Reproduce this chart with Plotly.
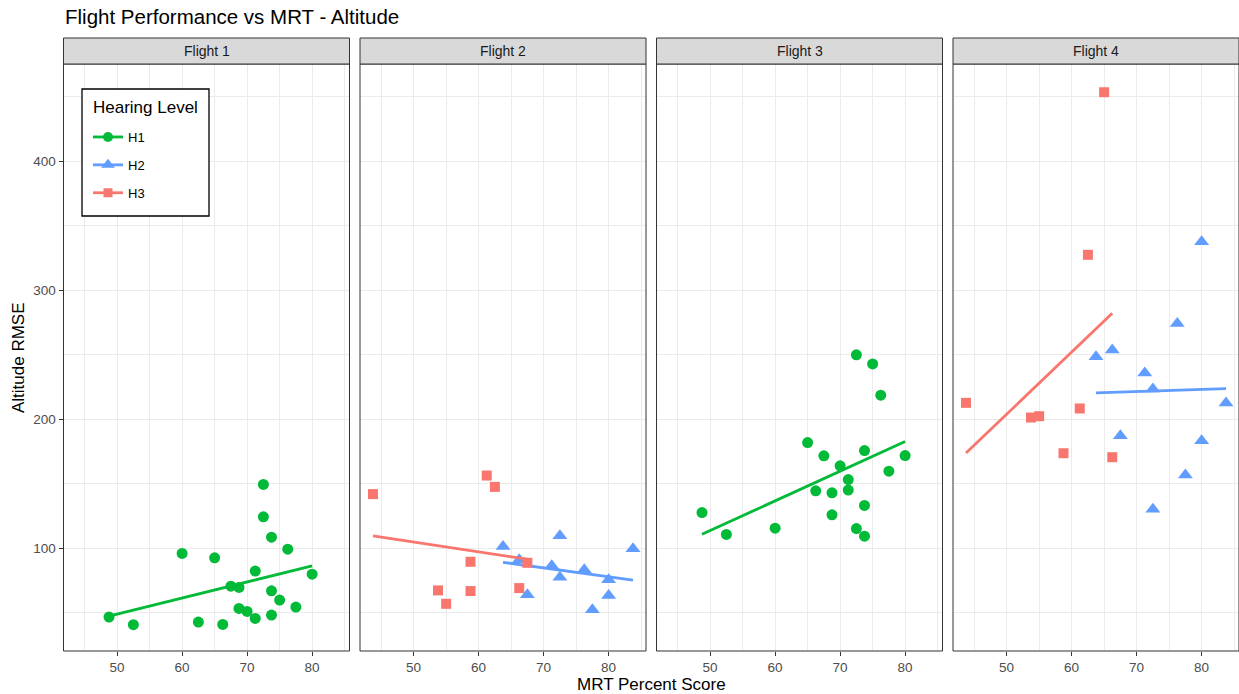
import numpy as np
import plotly.graph_objects as go

# ---------------- data ----------------
flights = ["Flight 1", "Flight 2", "Flight 3", "Flight 4"]
levels = ["H1", "H2", "H3"]

flight1_h1_mrt = [48.75, 52.5, 60, 62.5, 65, 66.25, 67.5, 68.75, 68.75, 70, 71.25, 71.25,
                  72.5, 72.5, 73.75, 73.75, 73.75, 75, 76.25, 77.5, 80]
flight1_h1_rmse = [46.5, 40.6, 95.9, 42.6, 92.5, 40.8, 70.5, 69.5, 53.2, 50.9, 45.5, 82.2,
                   149.4, 124.3, 108.5, 66.9, 48.1, 59.7, 99.2, 54.3, 79.8]

flight2_h2_mrt = [63.75, 66.25, 67.5, 71.25, 72.5, 72.5, 76.25, 77.5, 80, 80, 83.75]
flight2_h2_rmse = [101.3, 91.0, 63.8, 86.3, 109.6, 77.5, 83.2, 52.2, 75.5, 63.3, 99.5]
flight2_h3_mrt = [43.75, 53.75, 55, 58.75, 58.75, 61.25, 62.5, 66.25, 67.5]
flight2_h3_rmse = [141.9, 67.2, 56.8, 89.4, 66.7, 156.3, 147.5, 69.0, 88.6]

flight3_h1_mrt = [48.75, 52.5, 60, 65, 66.25, 67.5, 68.75, 68.75, 70, 71.25, 71.25, 72.5,
                  72.5, 73.75, 73.75, 73.75, 75, 76.25, 77.5, 80]
flight3_h1_rmse = [127.6, 110.6, 115.5, 181.9, 144.4, 171.6, 142.9, 125.8, 163.8, 153.2,
                   145.0, 249.9, 115.2, 175.7, 133.1, 109.3, 242.9, 218.6, 159.7, 171.8]

flight4_h2_mrt = [63.75, 66.25, 67.5, 71.25, 72.5, 72.5, 76.25, 77.5, 80, 80, 83.75]
flight4_h2_rmse = [248.5, 253.6, 187.1, 235.8, 223.4, 130.2, 274.3, 156.8, 337.6, 183.2, 212.5]
flight4_h3_mrt = [43.75, 53.75, 55, 58.75, 61.25, 62.5, 65, 66.25]
flight4_h3_rmse = [212.7, 201.3, 202.3, 173.6, 208.3, 327.5, 453.6, 170.5]

x_ticks = [50, 60, 70, 80]
y_ticks = [100, 200, 300, 400]

series = [
    (0, "H1", flight1_h1_mrt, flight1_h1_rmse),
    (1, "H2", flight2_h2_mrt, flight2_h2_rmse),
    (1, "H3", flight2_h3_mrt, flight2_h3_rmse),
    (2, "H1", flight3_h1_mrt, flight3_h1_rmse),
    (3, "H2", flight4_h2_mrt, flight4_h2_rmse),
    (3, "H3", flight4_h3_mrt, flight4_h3_rmse),
]

# ---------------- styles ----------------
W, H = 1239, 694
colors = {"H1": "#00BA38", "H2": "#619CFF", "H3": "#F8766D"}
symbols = {"H1": "circle", "H2": "triangle-up", "H3": "square"}
sizes = {"H1": 11, "H2": 13, "H3": 10}
FONT = "Liberation Sans, Arial, sans-serif"

panel_left = [63.5, 360, 656.5, 953]
panel_w = 286
panel_top, panel_bottom = 64, 651
strip_top = 38

fig = go.Figure()

for i, name, xs, ys in series:
    ax = "" if i == 0 else str(i + 1)
    xs_a = np.array(xs, dtype=float)
    ys_a = np.array(ys, dtype=float)
    fig.add_trace(go.Scatter(
        x=xs, y=ys, mode="markers", xaxis="x" + ax, yaxis="y" + ax,
        marker=dict(color=colors[name], symbol=symbols[name], size=sizes[name],
                    line=dict(width=0)),
        showlegend=False, hoverinfo="x+y"))
    # linear fit (geom_smooth method = lm)
    slope, icpt = np.polyfit(xs_a, ys_a, 1)
    xl = np.array([xs_a.min(), xs_a.max()])
    fig.add_trace(go.Scatter(
        x=xl, y=slope * xl + icpt, mode="lines", xaxis="x" + ax, yaxis="y" + ax,
        line=dict(color=colors[name], width=2.8), showlegend=False, hoverinfo="skip"))

# legend entries
for k, name in enumerate(levels):
    fig.add_trace(go.Scatter(
        x=[None], y=[None], mode="lines+markers", name=name, legendgroup=name,
        marker=dict(color=colors[name], symbol=symbols[name], size=sizes[name] - 1,
                    line=dict(width=0)),
        line=dict(color=colors[name], width=2.8)))

layout = dict(
    width=W, height=H, margin=dict(l=0, r=0, t=0, b=0),
    paper_bgcolor="white", plot_bgcolor="white",
    font=dict(family=FONT, color="#4D4D4D"),
    showlegend=True,
    legend=dict(
        x=88 / W, y=1 - 122 / H, xanchor="left", yanchor="top",
        bgcolor="rgba(0,0,0,0)", borderwidth=0,
        font=dict(size=13, color="black", family=FONT),
        tracegroupgap=8, traceorder="grouped", itemwidth=30),
)

shapes = []
annotations = []
for i in range(4):
    ax = "" if i == 0 else str(i + 1)
    x0 = panel_left[i] / W
    x1 = (panel_left[i] + panel_w) / W
    y0 = 1 - panel_bottom / H
    y1 = 1 - panel_top / H
    layout["xaxis" + ax] = dict(
        domain=[x0, x1], anchor="y" + ax, range=[41.75, 85.75],
        tickvals=x_ticks, ticks="outside", ticklen=4, tickcolor="#333333", tickwidth=1,
        tickfont=dict(size=13.5, color="#4D4D4D", family=FONT),
        showgrid=True, gridcolor="#EBEBEB", gridwidth=1.1, zeroline=False,
        minor=dict(dtick=5, tick0=0, showgrid=True, gridcolor="#EBEBEB", gridwidth=0.6),
        showline=False, fixedrange=True)
    layout["yaxis" + ax] = dict(
        domain=[y0, y1], anchor="x" + ax, range=[20.2, 475.5],
        tickvals=y_ticks, ticks="outside" if i == 0 else "", ticklen=4,
        tickcolor="#333333", tickwidth=1, showticklabels=(i == 0),
        tickfont=dict(size=13.5, color="#4D4D4D", family=FONT),
        showgrid=True, gridcolor="#EBEBEB", gridwidth=1.1, zeroline=False,
        minor=dict(dtick=50, tick0=0, showgrid=True, gridcolor="#EBEBEB", gridwidth=0.6),
        showline=False, fixedrange=True)
    # panel border
    shapes.append(dict(type="rect", xref="paper", yref="paper",
                       x0=x0, x1=x1, y0=y0, y1=y1,
                       line=dict(color="#333333", width=1), fillcolor="rgba(0,0,0,0)",
                       layer="above"))
    # strip
    shapes.append(dict(type="rect", xref="paper", yref="paper",
                       x0=x0, x1=x1, y0=y1, y1=1 - strip_top / H,
                       line=dict(color="#333333", width=1), fillcolor="#D9D9D9"))
    annotations.append(dict(text=flights[i], xref="paper", yref="paper",
                            x=(x0 + x1) / 2, y=1 - ((strip_top + panel_top) / 2) / H,
                            xanchor="center", yanchor="middle", showarrow=False,
                            font=dict(size=14, color="#1A1A1A", family=FONT)))

# legend box and title
shapes.append(dict(type="rect", xref="paper", yref="paper",
                   x0=82 / W, x1=209 / W, y0=1 - 216 / H, y1=1 - 89 / H,
                   line=dict(color="black", width=1.3), fillcolor="white", layer="above"))
annotations.append(dict(text="Hearing Level", xref="paper", yref="paper",
                        x=91 / W, y=1 - 107 / H, xanchor="left", yanchor="middle",
                        showarrow=False, font=dict(size=17, color="black", family=FONT)))

annotations.append(dict(text="Flight Performance vs MRT - Altitude", xref="paper", yref="paper",
                        x=63 / W, y=1 - 17 / H, xanchor="left", yanchor="middle",
                        showarrow=False, font=dict(size=20.5, color="black", family=FONT)))
annotations.append(dict(text="MRT Percent Score", xref="paper", yref="paper",
                        x=(panel_left[0] + panel_left[3] + panel_w) / 2 / W, y=1 - 684 / H,
                        xanchor="center", yanchor="middle", showarrow=False,
                        font=dict(size=17, color="black", family=FONT)))
annotations.append(dict(text="Altitude RMSE", xref="paper", yref="paper",
                        x=18.5 / W, y=1 - ((panel_top + panel_bottom) / 2) / H,
                        xanchor="center", yanchor="middle", showarrow=False, textangle=-90,
                        font=dict(size=17, color="black", family=FONT)))

layout["shapes"] = shapes
layout["annotations"] = annotations
fig.update_layout(**layout)

fig.write_html("out.html", config={"displayModeBar": False},
               post_script="document.body.style.margin='0';document.body.style.overflow='hidden';")
